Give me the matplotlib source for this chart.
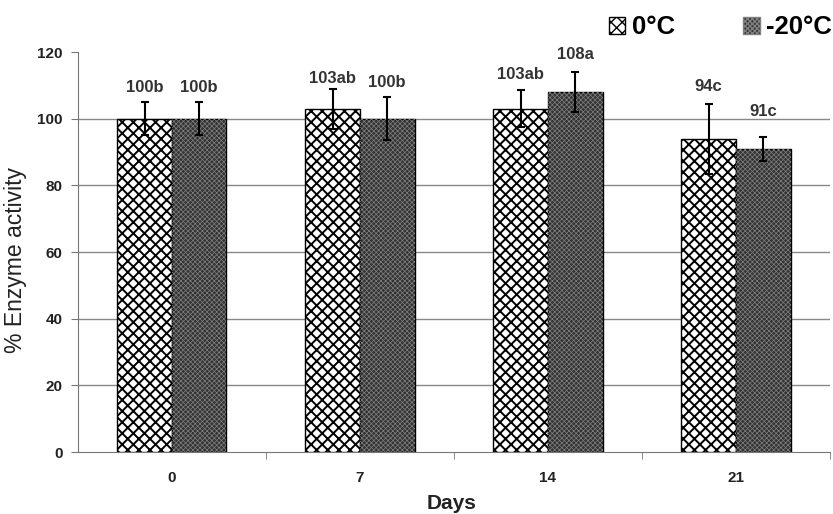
import numpy as np
import matplotlib.pyplot as plt
from matplotlib.patches import Patch

plt.rcParams['font.family'] = ['Liberation Sans', 'DejaVu Sans']

# % enzyme activity after storage at two temperatures
days = ['0', '7', '14', '21']
act_0c = [100, 103, 103, 94]
act_m20c = [100, 100, 108, 91]
err_0c = [5, 6, 5.5, 10.5]
err_m20c = [5, 6.5, 6, 3.6]
lab_0c = ['100b', '103ab', '103ab', '94c']
lab_m20c = ['100b', '100b', '108a', '91c']

# gap (pixels) between error cap and the letter label
pad_0c = [15, 10, 16, 17]
pad_m20c = [15, 15, 18, 25]

x = np.arange(len(days))
w = 0.29

fig = plt.figure(figsize=(8.33, 5.14), dpi=100)
ax = fig.add_axes([0.0936, 0.1206, 0.9028, 0.7782])

# 0 C bars: white with black lattice
with plt.rc_context({'hatch.linewidth': 1.4}):
    b1 = ax.bar(x - w / 2, act_0c, w, color='white', edgecolor='black',
                linewidth=1.0, hatch='xxx', zorder=3)

# -20 C bars: dark grey with fine light dots
b2 = ax.bar(x + w / 2, act_m20c, w, color='#333333', edgecolor='black',
            linewidth=1.0, zorder=3)
with plt.rc_context({'hatch.linewidth': 0.5}):
    ax.bar(x + w / 2, act_m20c, w, fill=False, edgecolor='#808080',
           linewidth=0, hatch='xxxxxxx', zorder=3)

ax.errorbar(x - w / 2, act_0c, yerr=err_0c, fmt='none', ecolor='black',
            elinewidth=1.5, capsize=3, capthick=1.5, zorder=4)
ax.errorbar(x + w / 2, act_m20c, yerr=err_m20c, fmt='none', ecolor='black',
            elinewidth=1.5, capsize=3, capthick=1.5, zorder=4)

for xs, vals, errs, labs, pads in [(x - w / 2, act_0c, err_0c, lab_0c, pad_0c),
                                   (x + w / 2, act_m20c, err_m20c, lab_m20c, pad_m20c)]:
    for xi, v, e, t, p in zip(xs, vals, errs, labs, pads):
        ax.annotate(t, (xi, v + e), xytext=(0, p), textcoords='offset pixels',
                    ha='center', va='center', fontsize=12, fontweight='bold',
                    color='#333333', zorder=5)

ax.set_xlim(-0.5, len(days) - 0.5)
ax.set_ylim(0, 120)
ax.set_yticks(range(0, 121, 20))
ax.set_yticklabels([str(v) for v in range(0, 121, 20)], fontsize=11,
                   fontweight='bold', color='#222222')
ax.set_xticks(x)
ax.set_xticklabels(days, fontsize=11, fontweight='bold', color='#222222')
ax.tick_params(axis='x', length=0, pad=14)
ax.set_xticks(np.arange(0.5, len(days), 1), minor=True)
ax.tick_params(axis='x', which='minor', length=5, color='#777777', direction='out')
ax.tick_params(axis='y', length=5, color='#777777', direction='out', pad=6)

for v in range(20, 101, 20):
    ax.axhline(v, color='#888888', linewidth=1.0, zorder=1)

for s in ['top', 'right']:
    ax.spines[s].set_visible(False)
ax.spines['left'].set_color('#777777')
ax.spines['bottom'].set_color('#777777')

ax.set_ylabel('% Enzyme activity', fontsize=16.5, color='#222222')
ax.yaxis.set_label_coords(-0.068, 0.48)
ax.set_xlabel('Days', fontsize=15, fontweight='bold', color='#222222')
ax.xaxis.set_label_coords(0.497, -0.104)

handles = [Patch(facecolor='white', edgecolor='black', hatch='xxx', label='0°C'),
           Patch(facecolor='#333333', edgecolor='#808080', hatch='xxxxxxx', label='-20°C')]
fig.legend(handles=handles, loc='upper right', bbox_to_anchor=(1.027, 1.015), ncol=2,
           frameon=False, handlelength=0.66, handleheight=0.66, handletextpad=0.25,
           columnspacing=2.65, prop={'size': 18.5, 'weight': 'bold'})

fig.savefig('out.png', dpi=100)
